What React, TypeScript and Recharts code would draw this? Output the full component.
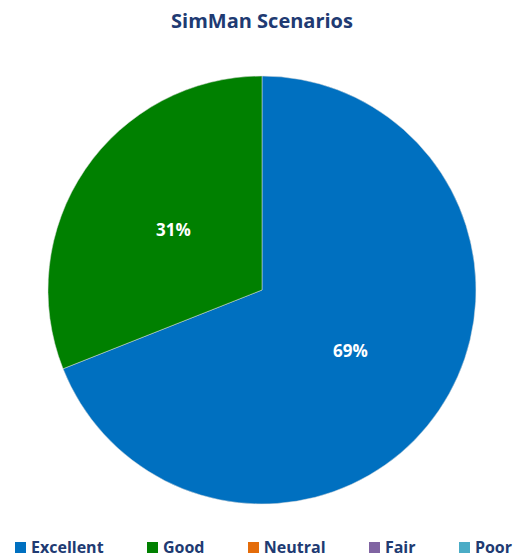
import React from 'react';
import { PieChart, Pie, Cell, Legend } from 'recharts';

const categories = ['Excellent', 'Good', 'Neutral', 'Fair', 'Poor'];
const shares = [69, 31, 0, 0, 0];
const colors = ['#0070C0', '#008000', '#E46C0A', '#8064A2', '#4BACC6'];

const data = categories.map((name, i) => ({ name, value: shares[i] }));

const TEXT_COLOR = '#203A72';
const FONT = '"Open Sans", "Liberation Sans", sans-serif';
const RADIAN = Math.PI / 180;

function renderLabel(props: any) {
  const { cx, cy, midAngle, outerRadius, value } = props;
  if (!value) return null;
  const r = outerRadius * 0.5;
  const x = cx + r * Math.cos(-midAngle * RADIAN);
  const y = cy + r * Math.sin(-midAngle * RADIAN);
  return (
    <text
      x={x}
      y={y}
      fill="#ffffff"
      textAnchor="middle"
      dominantBaseline="central"
      fontFamily={FONT}
      fontWeight={700}
      fontSize={17}
    >
      {`${value}%`}
    </text>
  );
}

function renderLegend() {
  return (
    <div
      style={{
        display: 'flex',
        justifyContent: 'space-between',
        padding: '0 16px 0 15px',
        fontFamily: FONT,
        fontWeight: 700,
        fontSize: 16,
        color: TEXT_COLOR,
      }}
    >
      {categories.map((name, i) => (
        <div key={name} style={{ display: 'flex', alignItems: 'center' }}>
          <span
            style={{
              display: 'inline-block',
              width: 11,
              height: 11,
              background: colors[i],
              marginRight: 5,
            }}
          />
          <span>{name}</span>
        </div>
      ))}
    </div>
  );
}

export default function App() {
  return (
    <div style={{ position: 'absolute', top: 0, left: 0, width: 528, height: 558, background: '#fff' }}>
      <div
        style={{
          position: 'absolute',
          top: 7,
          left: 0,
          width: 524,
          textAlign: 'center',
          fontFamily: FONT,
          fontWeight: 700,
          fontSize: 20,
          color: TEXT_COLOR,
          zIndex: 1,
        }}
      >
        SimMan Scenarios
      </div>
      <PieChart width={528} height={558} margin={{ top: 0, right: 0, bottom: 0, left: 0 }}>
        <Pie
          data={data}
          dataKey="value"
          nameKey="name"
          cx={262}
          cy={290}
          outerRadius={214}
          startAngle={90}
          endAngle={-270}
          stroke="#dddddd"
          strokeWidth={0.5}
          label={renderLabel}
          labelLine={false}
          isAnimationActive={false}
        >
          {data.map((d, i) => (
            <Cell key={d.name} fill={colors[i]} />
          ))}
        </Pie>
        <Legend
          content={renderLegend}
          verticalAlign="bottom"
          align="left"
          wrapperStyle={{ left: 0, bottom: 0, width: 528 }}
        />
      </PieChart>
    </div>
  );
}
